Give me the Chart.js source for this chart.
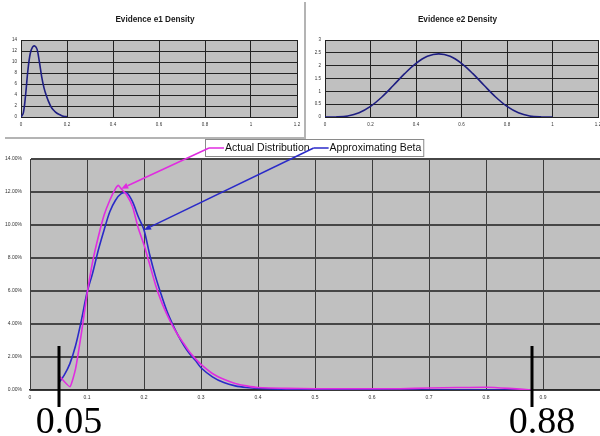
<!DOCTYPE html>
<html><head><meta charset="utf-8">
<script src="https://cdn.jsdelivr.net/npm/chart.js@4"></script>
<style>
html,body{margin:0;padding:0;background:#fff;}
#wrap{position:relative;width:600px;height:436px;overflow:hidden;background:#fff;}
canvas{position:absolute;}
.sep{position:absolute;background:#b4b4b4;z-index:5;}
</style></head><body>
<div id="wrap">
<canvas id="c1" width="305" height="138" style="left:0;top:0"></canvas>
<canvas id="c2" width="294" height="138" style="left:306px;top:0"></canvas>
<canvas id="c3" width="600" height="300" style="left:0;top:136px"></canvas>
<div class="sep" style="left:304px;top:2px;width:2px;height:137px"></div>
<div class="sep" style="left:5px;top:137px;width:301px;height:2px"></div>
</div>
<script>
// ---------- data ----------
const e1Title = "Evidence e1 Density";
const e1X = [0,0.01,0.02,0.03,0.04,0.05,0.06,0.07,0.08,0.09,0.10,0.11,0.12,0.13,0.14,0.15,0.16,0.17,0.18,0.19,0.20];
const e1Y = [0,0.7,4.0,8.5,11.5,12.7,12.9,12.3,10.0,7.3,5.3,3.9,2.8,1.9,1.3,0.9,0.6,0.4,0.2,0.1,0.05];
const e1XTicks = ["0","0.2","0.4","0.6","0.8","1","1.2"];
const e1YTicks = ["0","2","4","6","8","10","12","14"];

const e2Title = "Evidence e2 Density";
const e2X = [0,0.05,0.1,0.15,0.2,0.25,0.3,0.35,0.4,0.45,0.5,0.55,0.6,0.65,0.7,0.75,0.8,0.85,0.9,0.95,1.0];
const e2Y = [0,0.003,0.041,0.167,0.413,0.779,1.225,1.688,2.090,2.364,2.461,2.364,2.090,1.688,1.225,0.779,0.413,0.167,0.041,0.003,0];
const e2XTicks = ["0","0.2","0.4","0.6","0.8","1","1.2"];
const e2YTicks = ["0","0.5","1","1.5","2","2.5","3"];

const seriesNames = ["Actual Distribution","Approximating Beta"];
const actualX = [0.05,0.07,0.08,0.09,0.10,0.11,0.12,0.13,0.14,0.15,0.155,0.16,0.17,0.18,0.19,0.20,0.21,0.22,0.23,0.24,0.25,0.26,0.27,0.28,0.29,0.30,0.32,0.34,0.36,0.38,0.40,0.45,0.50,0.60,0.65,0.70,0.75,0.80,0.84,0.88];
const actualY = [0.9,0.2,1.3,3.4,5.8,7.8,9.3,10.6,11.5,12.2,12.4,12.2,11.8,11.1,9.8,8.8,7.6,6.4,5.4,4.6,3.9,3.3,2.8,2.3,1.9,1.55,1.0,0.65,0.4,0.25,0.15,0.1,0.08,0.08,0.08,0.12,0.15,0.17,0.1,0.0];
const betaX = [0.05,0.06,0.07,0.08,0.09,0.10,0.11,0.12,0.13,0.14,0.15,0.16,0.17,0.18,0.19,0.20,0.21,0.22,0.23,0.24,0.25,0.26,0.27,0.28,0.29,0.30,0.32,0.34,0.36,0.38,0.40,0.45,0.50,0.60,0.70,0.80,0.88];
const betaY = [0.4,0.9,1.6,2.7,4.2,5.9,7.1,8.5,9.7,10.8,11.5,11.9,11.95,11.4,10.5,9.7,8.2,6.9,5.8,4.8,4.0,3.3,2.7,2.2,1.8,1.35,0.8,0.45,0.25,0.15,0.1,0.05,0.03,0.01,0,0,0];
const mainXTicks = ["0","0.1","0.2","0.3","0.4","0.5","0.6","0.7","0.8","0.9",""];
const mainYTicks = ["0.00%","2.00%","4.00%","6.00%","8.00%","10.00%","12.00%","14.00%"];
const arrowTargets = [0.16, 0.20];      // x value on each series the arrow points to
const cutPoints = [0.05, 0.88];
const cutLabels = ["0.05","0.88"];

// ---------- helpers ----------
const pts = (xs, ys) => xs.map((x,i)=>({x:x,y:ys[i]}));
const SANS = "'Liberation Sans', Arial, sans-serif";
const plotBg = {
  id:'plotBg',
  beforeDraw(chart){
    const a = chart.chartArea, c = chart.ctx;
    c.save(); c.fillStyle = '#c0c0c0'; c.fillRect(a.left, a.top, a.right-a.left, a.bottom-a.top); c.restore();
  }
};
const titlePlugin = {
  id:'smallTitle',
  afterDraw(chart, args, opts){
    const a = chart.chartArea, c = chart.ctx;
    c.save(); c.fillStyle = '#1a1a1a'; c.font = 'bold 8.2px ' + SANS;
    c.textAlign = 'center'; c.textBaseline = 'middle';
    c.fillText(opts.text, (a.left + a.right)/2 - 4, a.top - 20);
    c.restore();
  }
};
const noXPad = s => { s.paddingLeft = 0; s.paddingRight = 0; };

function smallChart(id, title, xs, ys, xTicks, yTicks, yMax, yStep, left, right){
  new Chart(document.getElementById(id), {
    type:'scatter',
    data:{datasets:[{data:pts(xs,ys), showLine:true, borderColor:'#1e1e82', borderWidth:1.6, pointRadius:0, tension:0.35, fill:false}]},
    options:{
      responsive:false, animation:false, devicePixelRatio:1,
      layout:{padding:{top:40, right:right, left:0, bottom:0}},
      plugins:{legend:{display:false}, tooltip:{enabled:false}, smallTitle:{text:title}},
      scales:{
        x:{type:'linear', min:0, max:1.2,
           ticks:{stepSize:0.2, padding:5, font:{size:4.5, family:SANS}, color:'#333', maxRotation:0, autoSkip:false,
                  callback:(v,i)=>xTicks[i]},
           grid:{color:'#222', lineWidth:1, drawTicks:false},
           border:{color:'#222', width:1},
           afterFit(s){ s.height = 21; noXPad(s); }},
        y:{type:'linear', min:0, max:yMax,
           ticks:{stepSize:yStep, padding:4, font:{size:4.5, family:SANS}, color:'#333', autoSkip:false,
                  callback:(v,i)=>yTicks[i]},
           grid:{color:'#222', lineWidth:1, drawTicks:false},
           border:{color:'#222', width:1},
           afterFit(s){ s.width = left; s.paddingTop = 0; s.paddingBottom = 0; }}
      }
    },
    plugins:[plotBg, titlePlugin]
  });
}
smallChart('c1', e1Title, e1X, e1Y, e1XTicks, e1YTicks, 14, 2, 21, 8);
smallChart('c2', e2Title, e2X, e2Y, e2XTicks, e2YTicks, 3, 0.5, 19, 2);

// ---------- main chart ----------
const COLORS = ['#e02ce0', '#2a2ac8'];
const legendAndArrows = {
  id:'legendAndArrows',
  afterDraw(chart){
    const c = chart.ctx, a = chart.chartArea;
    const xs = chart.scales.x, ys = chart.scales.y;
    c.save();
    c.font = '10.5px ' + SANS;
    const w0 = c.measureText(seriesNames[0]).width, w1 = c.measureText(seriesNames[1]).width;
    const mk = 15, padL = 4, gap = 4, padR = 3;
    const total = padL + mk + 1 + w0 + gap + mk + 1 + w1 + padR;
    const bx = Math.round((a.left + a.right)/2 - total/2), by = 3, bh = 18;
    c.fillStyle = '#fff'; c.fillRect(bx, by, total, bh);
    c.strokeStyle = '#8a8a8a'; c.lineWidth = 1; c.strokeRect(bx+0.5, by+0.5, total-1, bh-1);
    const my = by + bh/2;
    const starts = [];
    let x = bx + padL;
    [w0, w1].forEach((w, i) => {
      c.strokeStyle = COLORS[i]; c.lineWidth = 1.5;
      c.beginPath(); c.moveTo(x, my); c.lineTo(x+mk, my); c.stroke();
      starts.push([x, my]);
      c.fillStyle = '#111'; c.textAlign = 'left'; c.textBaseline = 'middle';
      c.fillText(seriesNames[i], x + mk + 1, my + 0.5);
      x += mk + 1 + w + gap;
    });
    // arrows
    arrowTargets.forEach((tx, i) => {
      const d = chart.data.datasets[i].data.find(p => Math.abs(p.x - tx) < 1e-9);
      const ex = xs.getPixelForValue(d.x), ey = ys.getPixelForValue(d.y);
      const [sx, sy] = starts[i];
      const ang = Math.atan2(ey - sy, ex - sx);
      const L = 7, W = 3;
      const bxp = ex - L*Math.cos(ang), byp = ey - L*Math.sin(ang);
      c.strokeStyle = COLORS[i]; c.fillStyle = COLORS[i]; c.lineWidth = 1.5;
      c.beginPath(); c.moveTo(sx, sy); c.lineTo(bxp, byp); c.stroke();
      c.beginPath();
      c.moveTo(ex, ey);
      c.lineTo(bxp + W*Math.sin(ang), byp - W*Math.cos(ang));
      c.lineTo(bxp - W*Math.sin(ang), byp + W*Math.cos(ang));
      c.closePath(); c.fill();
    });
    // cut markers
    const base = ys.getPixelForValue(0);
    cutPoints.forEach((v, i) => {
      const px = Math.round(xs.getPixelForValue(v));
      c.fillStyle = '#000';
      c.fillRect(px - 1.5, base - 44, 3, 61);
      c.font = '38px "Liberation Serif", "Times New Roman", serif';
      c.textAlign = 'center'; c.textBaseline = 'alphabetic';
      c.fillText(cutLabels[i], px + 10, base + 43);
    });
    c.restore();
  }
};

new Chart(document.getElementById('c3'), {
  type:'scatter',
  data:{datasets:[
    {label:seriesNames[0], data:pts(actualX, actualY), showLine:true, borderColor:COLORS[0], borderWidth:1.6, pointRadius:0, tension:0.15, fill:false},
    {label:seriesNames[1], data:pts(betaX, betaY), showLine:true, borderColor:COLORS[1], borderWidth:1.6, pointRadius:0, tension:0.3, fill:false}
  ]},
  options:{
    responsive:false, animation:false, devicePixelRatio:1,
    layout:{padding:{top:23, right:0, left:0, bottom:0}},
    plugins:{legend:{display:false}, tooltip:{enabled:false}},
    scales:{
      x:{type:'linear', min:0, max:1,
         ticks:{stepSize:0.1, padding:5, font:{size:5, family:SANS}, color:'#333', maxRotation:0, autoSkip:false,
                callback:(v,i)=>mainXTicks[i]},
         grid:{color:'#3c3c3c', lineWidth:1, drawTicks:false},
         border:{color:'#2a2a2a', width:1.5},
         afterFit(s){ s.height = 46; noXPad(s); }},
      y:{type:'linear', min:0, max:14,
         ticks:{stepSize:2, padding:8, font:{size:5, family:SANS}, color:'#333', autoSkip:false,
                callback:(v,i)=>mainYTicks[i]},
         grid:{color:'#464646', lineWidth:2, drawTicks:false},
         border:{color:'#3c3c3c', width:1},
         afterFit(s){ s.width = 30; s.paddingTop = 0; s.paddingBottom = 0; }}
    }
  },
  plugins:[plotBg, legendAndArrows]
});
</script>
</body></html>
